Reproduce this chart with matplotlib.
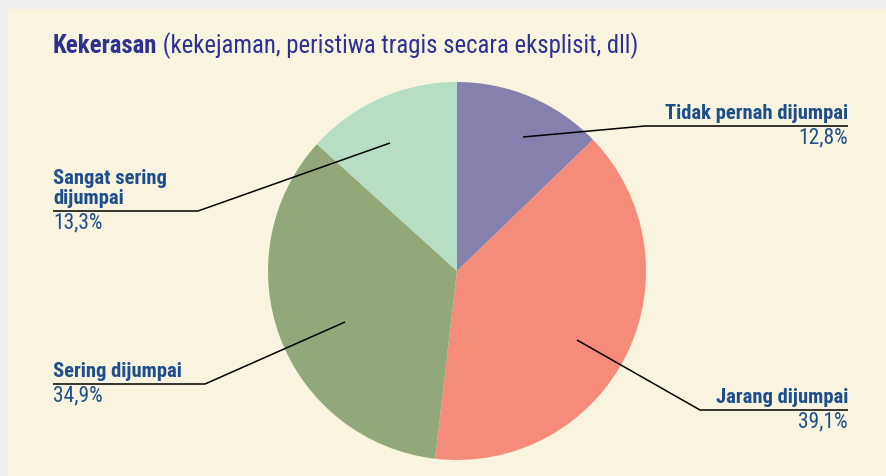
import matplotlib.pyplot as plt
from matplotlib.patches import Rectangle

# data
labels = ["Tidak pernah dijumpai", "Jarang dijumpai", "Sering dijumpai", "Sangat sering\ndijumpai"]
values = [12.8, 39.1, 34.9, 13.3]
pct_text = ["12,8%", "39,1%", "34,9%", "13,3%"]
colors = ["#8680ad", "#f58c7a", "#93a878", "#b5dec5"]

W, H = 886, 476
fam = ["Roboto Condensed", "DejaVu Sans"]
lab_col = "#1f4e8c"
title_col = "#2e3192"

fig = plt.figure(figsize=(W / 100, H / 100), dpi=100)
fig.patch.set_facecolor("#eeeeee")
ax = fig.add_axes([0, 0, 1, 1])

# cream panel
ax.add_patch(Rectangle((8, 0), W - 8, H - 9, facecolor="#f9f4df", edgecolor="none", zorder=0))

# pie
cx, cy, R = 457, H - 271, 189
wedges, _ = ax.pie(values, colors=colors, startangle=90, counterclock=False,
                   center=(cx, cy), radius=R, frame=True,
                   wedgeprops=dict(linewidth=0))
ax.set_xlim(0, W)
ax.set_ylim(0, H)
ax.set_aspect("equal")
ax.axis("off")

# leader lines in pixels from top-left: anchor, elbow, end x
leaders = [
    ((523, 137), (645, 126), 848, "right"),
    ((577, 340), (700, 410), 848, "right"),
    ((345, 322), (205, 384), 53, "left"),
    ((390, 143), (198, 211), 53, "left"),
]
for lab, pt, (a, e, tx, side) in zip(labels, pct_text, leaders):
    ey = H - e[1]
    ax.plot([a[0], e[0], tx], [H - a[1], ey, ey], color="black", lw=1.1, zorder=5,
            solid_capstyle="butt")
    ha = "right" if side == "right" else "left"
    ax.text(tx, ey + 3, lab, ha=ha, va="bottom", fontsize=14.9, fontweight="bold",
            color=lab_col, family=fam, linespacing=1.1)
    ax.text(tx, ey - 1, pt, ha=ha, va="top", fontsize=15.5, color=lab_col, family=fam)

# title
t = ax.text(53, H - 46, "Kekerasan", ha="left", va="center", fontsize=17.8,
            fontweight="bold", color=title_col, family=fam)
ax.annotate(" (kekejaman, peristiwa tragis secara eksplisit, dll)", xy=(1, 0.5),
            xycoords=t, ha="left", va="center", fontsize=17.8, color=title_col, family=fam)

fig.savefig("out.png", dpi=100, facecolor=fig.get_facecolor())
